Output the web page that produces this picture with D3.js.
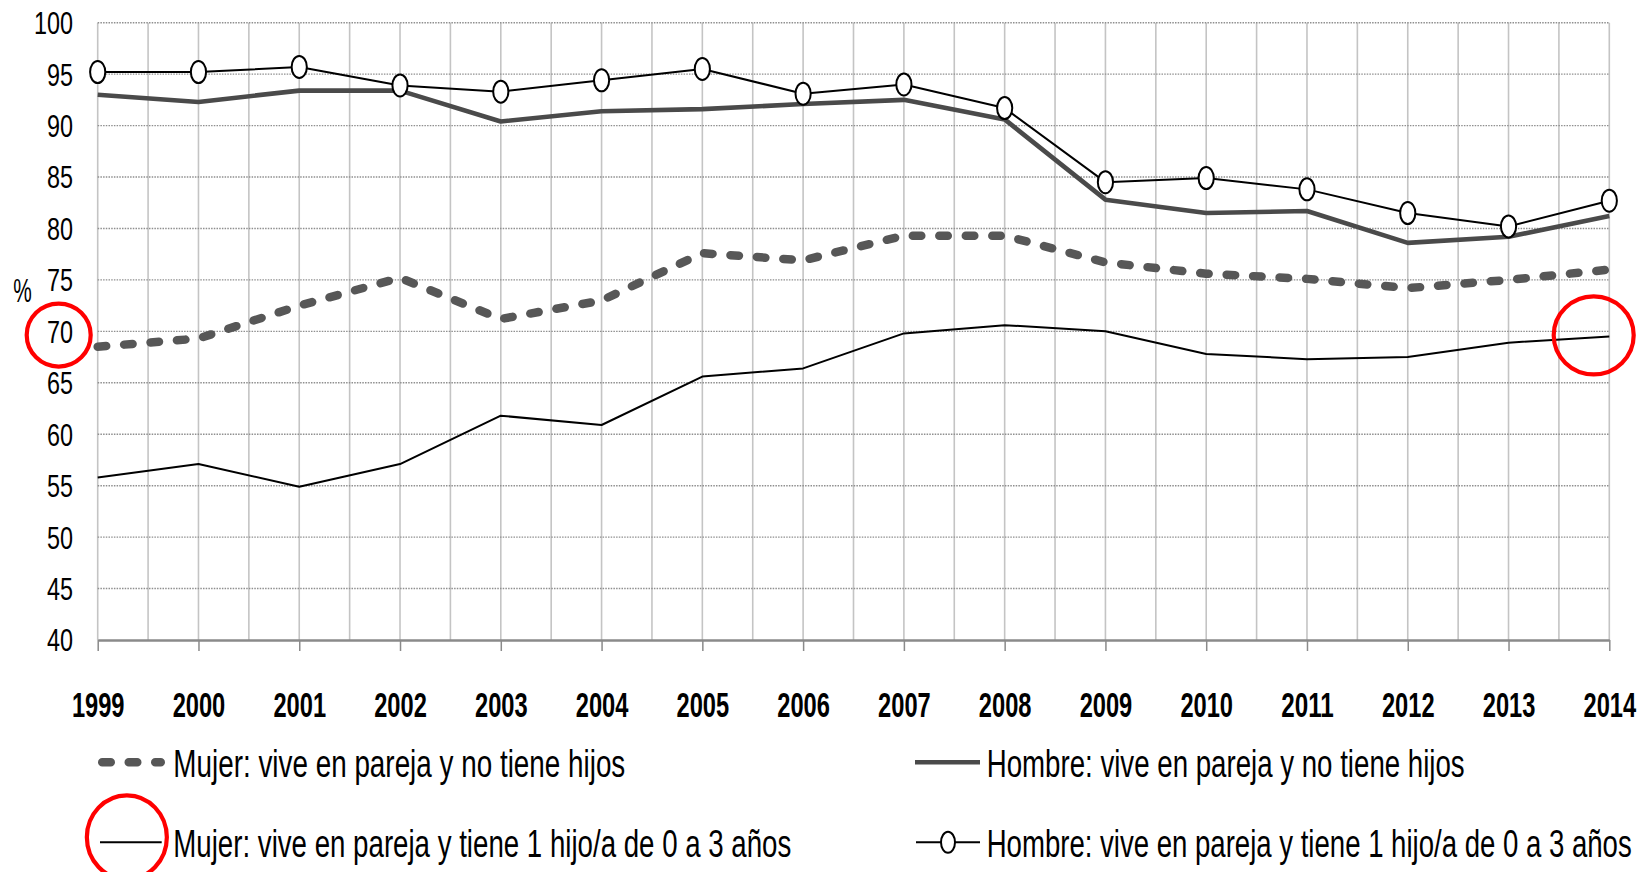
<!DOCTYPE html>
<html>
<head>
<meta charset="utf-8">
<script src="https://cdn.jsdelivr.net/npm/d3@7"></script>
<style>
  html, body { margin: 0; padding: 0; background: #fff; }
  svg text { font-family: "Liberation Sans Narrow", "Liberation Sans", Arial, sans-serif; fill: #000; }
</style>
</head>
<body>
<svg id="chart"></svg>
<script>
var years = [1999, 2000, 2001, 2002, 2003, 2004, 2005, 2006, 2007, 2008, 2009, 2010, 2011, 2012, 2013, 2014];
var yTicks = [40, 45, 50, 55, 60, 65, 70, 75, 80, 85, 90, 95, 100];

var mujerSinHijos  = [68.5, 69.3, 72.5, 75.2, 71.2, 73.0, 77.6, 76.9, 79.3, 79.3, 76.7, 75.6, 75.1, 74.2, 75.0, 76.0];
var hombreSinHijos = [93.0, 92.3, 93.4, 93.4, 90.4, 91.4, 91.6, 92.1, 92.5, 90.6, 82.8, 81.5, 81.7, 78.6, 79.2, 81.2];
var mujerUnHijo    = [55.8, 57.1, 54.9, 57.1, 61.8, 60.9, 65.6, 66.4, 69.8, 70.6, 70.0, 67.8, 67.3, 67.5, 68.9, 69.5];
var hombreUnHijo   = [95.2, 95.2, 95.7, 93.9, 93.3, 94.4, 95.5, 93.1, 94.0, 91.7, 84.5, 84.9, 83.8, 81.5, 80.2, 82.7];

var seriesNames = [
    "Mujer: vive en pareja y no tiene hijos",
    "Hombre: vive en pareja y no tiene hijos",
    "Mujer: vive en pareja y tiene 1 hijo/a de 0 a 3 años",
    "Hombre: vive en pareja y tiene 1 hijo/a de 0 a 3 años"
];

var width = 1638, height = 872;
var plotLeft = 97.7, plotRight = 1609.3, plotTop = 22.7, plotBottom = 640;

var svg = d3.select("#chart").attr("width", width).attr("height", height);

var x = d3.scaleLinear().domain([years[0], years[years.length - 1]]).range([plotLeft, plotRight]);
var y = d3.scaleLinear().domain([40, 100]).range([plotBottom, plotTop]);

// vertical gridlines (every half year)
var halfSteps = [];
years.forEach(function(yr, i) {
    halfSteps.push(yr);
    if (i < years.length - 1) halfSteps.push(yr + 0.5);
});
svg.append("g").selectAll("line")
    .data(halfSteps)
    .enter().append("line")
    .attr("x1", function(d) { return x(d); })
    .attr("x2", function(d) { return x(d); })
    .attr("y1", plotTop).attr("y2", plotBottom)
    .style("stroke", "#c4c4c4")
    .style("stroke-width", 1.6);

// horizontal dotted gridlines
svg.append("g").selectAll("line")
    .data(yTicks.slice(1))
    .enter().append("line")
    .attr("x1", plotLeft).attr("x2", plotRight)
    .attr("y1", function(d) { return y(d); })
    .attr("y2", function(d) { return y(d); })
    .style("stroke", "#8f8f8f")
    .style("stroke-width", 1.4)
    .style("stroke-dasharray", "1.5 1.2");

// y axis labels
var yAxis = svg.append("g")
    .attr("transform", "translate(" + plotLeft + ",0)")
    .call(d3.axisLeft(y).tickValues(yTicks).tickSize(0).tickPadding(24.7));
yAxis.select(".domain").remove();
yAxis.selectAll("text")
    .style("font-size", "32px")
    .attr("dy", "0.34em")
    .attr("textLength", function(d) { return 13 * String(d).length; })
    .attr("lengthAdjust", "spacingAndGlyphs");

// x axis
var xAxis = svg.append("g")
    .attr("transform", "translate(0," + plotBottom + ")")
    .call(d3.axisBottom(x).tickValues(years).tickFormat(d3.format("d")).tickSize(11).tickSizeOuter(0));
xAxis.select(".domain").style("stroke", "#8a8a8a").style("stroke-width", 2.5);
xAxis.selectAll(".tick line").style("stroke", "#8a8a8a").style("stroke-width", 1.5);
xAxis.selectAll("text")
    .attr("y", 76.7).attr("dy", null)
    .style("font-size", "35px")
    .style("font-weight", "bold")
    .attr("textLength", 52.6)
    .attr("lengthAdjust", "spacingAndGlyphs");

svg.append("text")
    .attr("x", 13.3).attr("y", 301.7)
    .style("font-size", "34px")
    .attr("textLength", 18.5)
    .attr("lengthAdjust", "spacingAndGlyphs")
    .text("%");

var line = d3.line()
    .x(function(d, i) { return x(years[i]); })
    .y(function(d) { return y(d); });

var styles = [
    { stroke: "#575757", width: 8.5, dash: "8.5 18", cap: "round" },
    { stroke: "#4a4a4a", width: 4.6, dash: null, cap: "butt" },
    { stroke: "#000", width: 2, dash: null, cap: "butt" },
    { stroke: "#000", width: 2, dash: null, cap: "butt", marker: true }
];
var allSeries = [mujerSinHijos, hombreSinHijos, mujerUnHijo, hombreUnHijo];

allSeries.forEach(function(values, i) {
    var st = styles[i];
    svg.append("path")
        .datum(values)
        .attr("d", line)
        .style("fill", "none")
        .style("stroke", st.stroke)
        .style("stroke-width", st.width)
        .style("stroke-linecap", st.cap)
        .style("stroke-linejoin", "round")
        .style("stroke-dasharray", st.dash);
    if (st.marker) {
        svg.append("g").selectAll("ellipse")
            .data(values)
            .enter().append("ellipse")
            .attr("cx", function(d, j) { return x(years[j]); })
            .attr("cy", function(d) { return y(d); })
            .attr("rx", 7.6).attr("ry", 11)
            .style("fill", "#fff")
            .style("stroke", "#000")
            .style("stroke-width", 2);
    }
});

// legend
var legendPos = [
    { sx: 98, ex: 165, tx: 173.3, ly: 762.3, w: 452 },
    { sx: 915, ex: 980, tx: 986.7, ly: 762.3, w: 478 },
    { sx: 100, ex: 161.7, tx: 173.3, ly: 842.3, w: 618 },
    { sx: 916, ex: 980, tx: 986.7, ly: 842.3, w: 645 }
];
seriesNames.forEach(function(name, i) {
    var p = legendPos[i], st = styles[i];
    var g = svg.append("g");
    var pad = st.cap === "round" ? st.width / 2 : 0;
    g.append("line")
        .attr("x1", p.sx + pad).attr("x2", p.ex - pad)
        .attr("y1", p.ly).attr("y2", p.ly)
        .style("stroke", st.stroke)
        .style("stroke-width", st.width)
        .style("stroke-linecap", st.cap)
        .style("stroke-dasharray", st.dash);
    if (st.marker) {
        g.append("ellipse")
            .attr("cx", (p.sx + p.ex) / 2).attr("cy", p.ly)
            .attr("rx", 7).attr("ry", 10.5)
            .style("fill", "#fff").style("stroke", "#000").style("stroke-width", 2);
    }
    g.append("text")
        .attr("x", p.tx).attr("y", p.ly + 14.4)
        .style("font-size", "38px")
        .attr("textLength", p.w)
        .attr("lengthAdjust", "spacingAndGlyphs")
        .text(name);
});

// red annotation circles
var marks = [
    { cx: x(years[0]) - 39, cy: y(70) + 3.7, rx: 32, ry: 31.5 },
    { cx: x(years[years.length - 1]) - 15.6, cy: y(70) + 4, rx: 40, ry: 39 },
    { cx: (legendPos[2].sx + legendPos[2].ex) / 2 - 4, cy: legendPos[2].ly - 5, rx: 40, ry: 42 }
];
svg.append("g").selectAll("ellipse")
    .data(marks)
    .enter().append("ellipse")
    .attr("cx", function(d) { return d.cx; })
    .attr("cy", function(d) { return d.cy; })
    .attr("rx", function(d) { return d.rx; })
    .attr("ry", function(d) { return d.ry; })
    .style("fill", "none")
    .style("stroke", "#f00")
    .style("stroke-width", 4.2);
</script>
</body>
</html>
